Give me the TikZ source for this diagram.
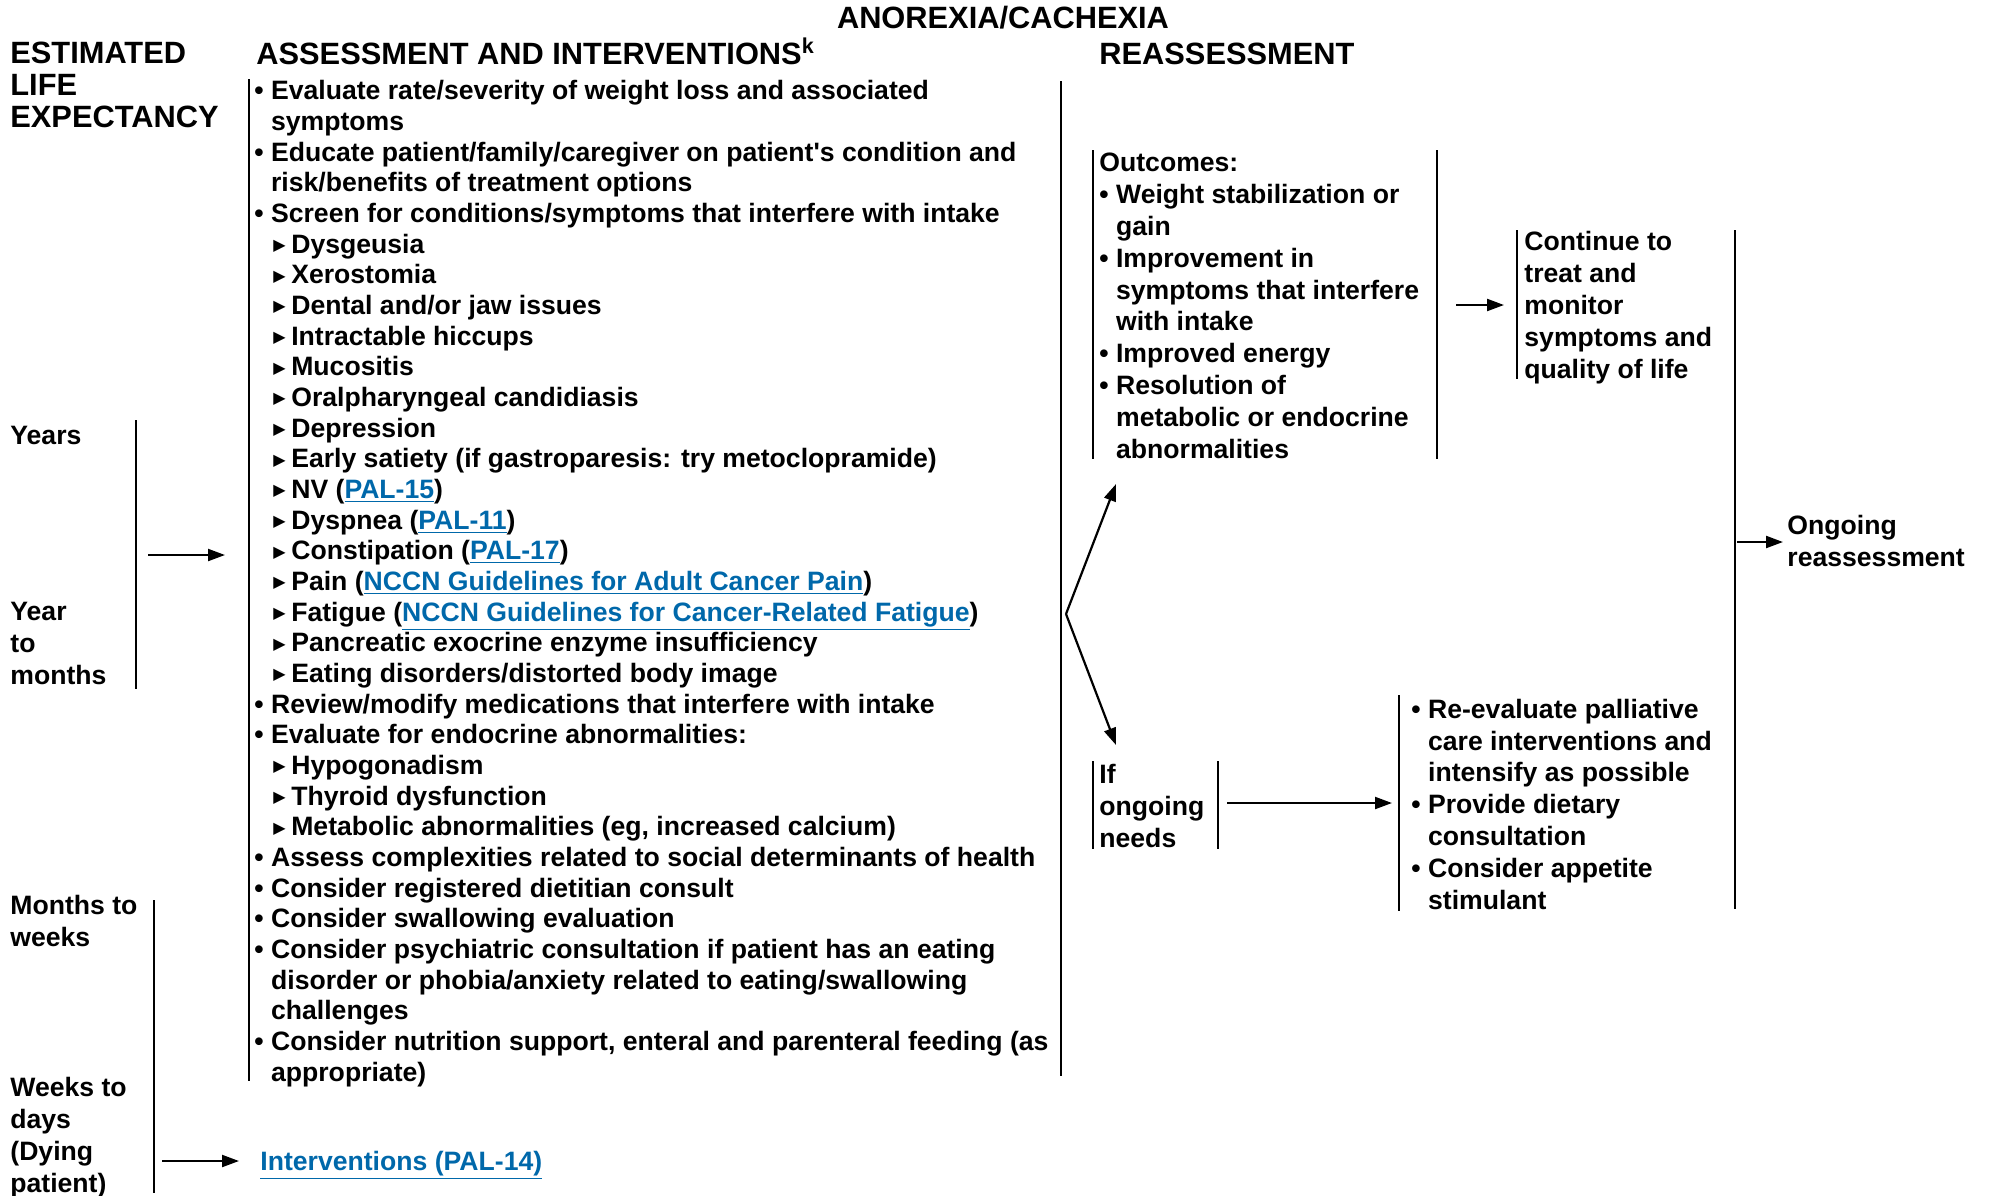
\documentclass[tikz,border=0pt]{standalone}
\usepackage{fontspec}
\setmainfont{Liberation Sans}
\newfontfamily\symfont{DejaVu Sans}
\usetikzlibrary{arrows.meta}
\definecolor{linkblue}{RGB}{0,104,170}
\newcommand{\bu}{\textbullet\ }
\newcommand{\hg}{\hphantom{\textbullet\ }}
\newcommand{\tri}{\hspace*{9.5pt}\raisebox{1.3pt}{\symfont\fontsize{8}{8}\selectfont ▶}\hspace{2.8pt}}
\newcommand{\lnk}[1]{{\color{linkblue}\underline{#1}}}

\begin{document}
\begin{tikzpicture}[x=0.5pt, y=-0.5pt,
	txt/.style={anchor=base west, align=left, inner sep=0pt, font=\bfseries\fontsize{13.3}{15.9}\selectfont},
	listtxt/.style={txt, font=\bfseries\fontsize{13.3}{15.33}\selectfont},
	heading/.style={txt, font=\bfseries\fontsize{15.4}{15.9}\selectfont},
	arrow/.style={-{Triangle[length=8.5pt,width=6pt]}, line width=1.1pt},
	bar/.style={line width=1pt}
]
\useasboundingbox (0,0) rectangle (1990,1195);

% headings (base = last line)
\node[heading, anchor=base] (title) at (1003,28) {ANOREXIA/CACHEXIA};
\node[heading] (lifehd) at (10,127) {ESTIMATED\\LIFE\\EXPECTANCY};
\node[heading] (assesshd) at (256,64) {ASSESSMENT AND INTERVENTIONS\textsuperscript{k}};
\node[heading] (reasshd) at (1099,64) {REASSESSMENT};

% estimated life expectancy
\node[txt] (years) at (10,444) {Years};
\node[txt] (months) at (10,684) {Year\\to\\months};
\node[txt] (weeks) at (10,946) {Months to\\weeks};
\node[txt] (days) at (10,1192) {Weeks to\\days\\(Dying\\patient)};

\draw[bar] (136,420) -- (136,689);
\draw[bar] (154,900) -- (154,1193);

% assessment and interventions
\node[listtxt] (assess) at (254,1081) {\bu Evaluate rate/severity of weight loss and associated\\
\hg symptoms\\
\bu Educate patient/family/caregiver on patient\textquotesingle s condition and\\
\hg risk/benefits of treatment options\\
\bu Screen for conditions/symptoms that interfere with intake\\
\tri Dysgeusia\\
\tri Xerostomia\\
\tri Dental and/or jaw issues\\
\tri Intractable hiccups\\
\tri Mucositis\\
\tri Oralpharyngeal candidiasis\\
\tri Depression\\
\tri Early satiety (if gastroparesis: try metoclopramide)\\
\tri NV (\lnk{PAL-15})\\
\tri Dyspnea (\lnk{PAL-11})\\
\tri Constipation (\lnk{PAL-17})\\
\tri Pain (\lnk{NCCN Guidelines for Adult Cancer Pain})\\
\tri Fatigue (\lnk{NCCN Guidelines for Cancer-Related Fatigue})\\
\tri Pancreatic exocrine enzyme insufficiency\\
\tri Eating disorders/distorted body image\\
\bu Review/modify medications that interfere with intake\\
\bu Evaluate for endocrine abnormalities:\\
\tri Hypogonadism\\
\tri Thyroid dysfunction\\
\tri Metabolic abnormalities (eg, increased calcium)\\
\bu Assess complexities related to social determinants of health\\
\bu Consider registered dietitian consult\\
\bu Consider swallowing evaluation\\
\bu Consider psychiatric consultation if patient has an eating\\
\hg disorder or phobia/anxiety related to eating/swallowing\\
\hg challenges\\
\bu Consider nutrition support, enteral and parenteral feeding (as\\
\hg appropriate)};

\draw[bar] (249,79) -- (249,1081);
\draw[bar] (1061,81) -- (1061,1076);

\node[txt] (dying) at (260,1170) {\lnk{Interventions (PAL-14)}};

% reassessment
\node[txt] (outcomes) at (1099,458) {Outcomes:\\
\bu Weight stabilization or\\
\hg gain\\
\bu Improvement in\\
\hg symptoms that interfere\\
\hg with intake\\
\bu Improved energy\\
\bu Resolution of\\
\hg metabolic or endocrine\\
\hg abnormalities};
\draw[bar] (1093,150) -- (1093,459);
\draw[bar] (1437,150) -- (1437,459);

\node[txt] (cont) at (1524,378) {Continue to\\treat and\\monitor\\symptoms and\\quality of life};
\draw[bar] (1517,230) -- (1517,379);
\draw[bar] (1735,230) -- (1735,909);

\node[txt] (needs) at (1099,847) {If\\ongoing\\needs};
\draw[bar] (1093,761) -- (1093,849);
\draw[bar] (1218,761) -- (1218,849);

\node[txt] (reeval) at (1411,909) {\bu Re-evaluate palliative\\
\hg care interventions and\\
\hg intensify as possible\\
\bu Provide dietary\\
\hg consultation\\
\bu Consider appetite\\
\hg stimulant};
\draw[bar] (1399,695) -- (1399,911);

\node[txt] (ongoing) at (1787,566) {Ongoing\\reassessment};

% connectors
\coordinate (yrsout) at (148,555);
\coordinate (assessin) at (225,555);
\coordinate (daysout) at (162,1161);
\coordinate (dyingin) at (239,1161);
\coordinate (split) at (1066,614);
\coordinate (outcomesin) at (1116,484);
\coordinate (needsin) at (1116,745);
\coordinate (outcomesout) at (1456,305);
\coordinate (contin) at (1504,305);
\coordinate (needsout) at (1227,803);
\coordinate (reevalin) at (1392,803);
\coordinate (allout) at (1737,542);
\coordinate (ongoingin) at (1783,542);

\draw[arrow] (yrsout) -- (assessin);
\draw[arrow] (daysout) -- (dyingin);
\draw[arrow] (split) -- (outcomesin);
\draw[arrow] (split) -- (needsin);
\draw[arrow] (outcomesout) -- (contin);
\draw[arrow] (needsout) -- (reevalin);
\draw[arrow] (allout) -- (ongoingin);
\end{tikzpicture}
\end{document}
